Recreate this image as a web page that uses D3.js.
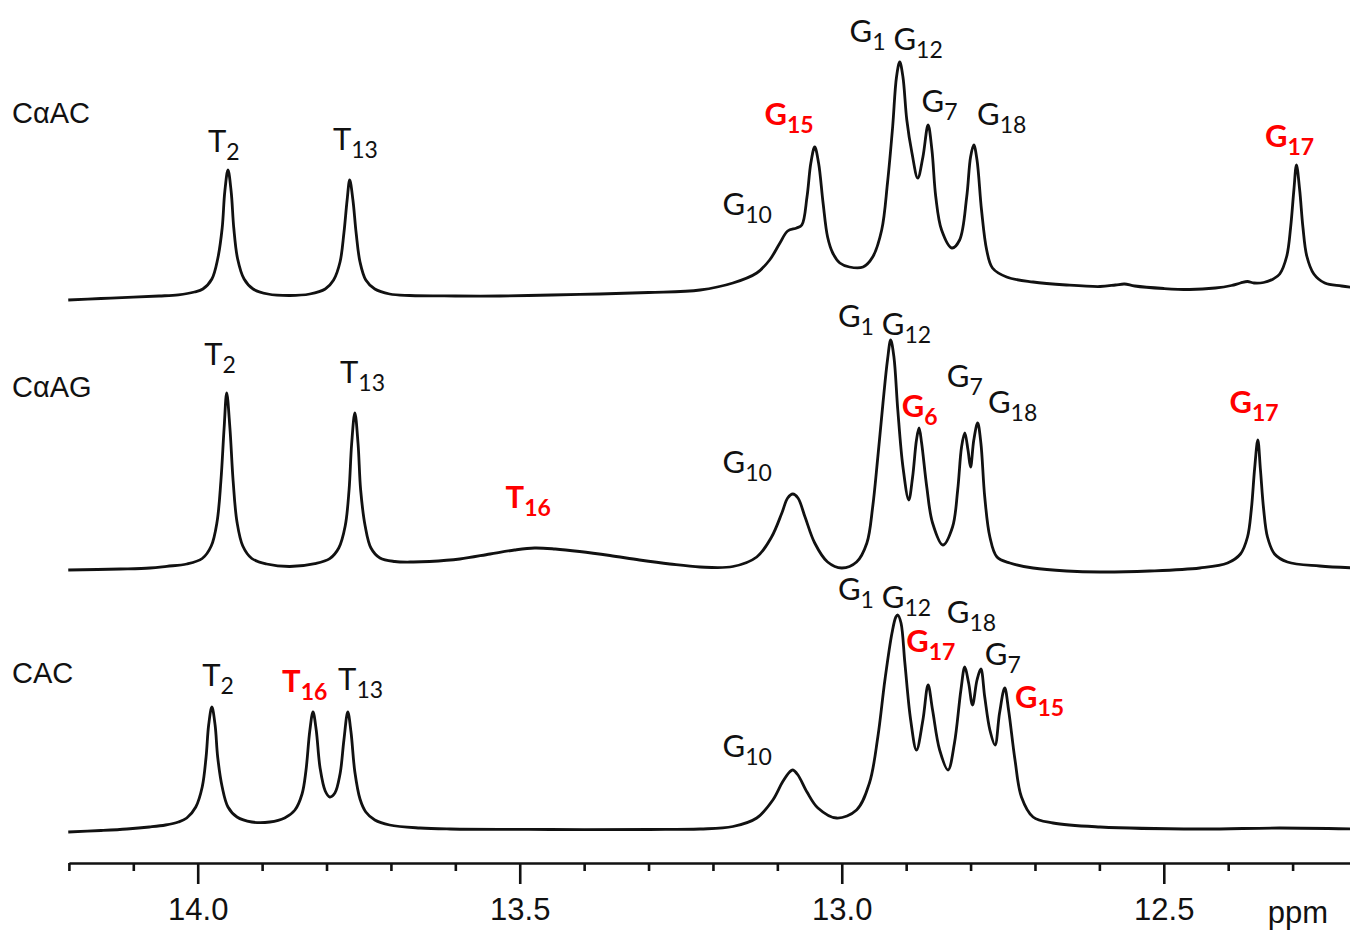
<!DOCTYPE html>
<html>
<head>
<meta charset="utf-8">
<style>
  body { margin: 0; background: #fff; }
  svg { display: block; }
  .axis text { font-family: "Liberation Sans", Arial, sans-serif; font-size: 31px; fill: #111; }
  .axis path, .axis line { stroke: #111; stroke-width: 2.6px; }
</style>
</head>
<body>
<div id="chart"></div>
<script src="https://d3js.org/d3.v7.min.js"></script>
<script>
var width = 1350,
    height = 931;

// sample names, one per trace (top to bottom)
var samples = ["C\u03b1AC", "C\u03b1AG", "CAC"];

// spectra: [ppm, intensity (a.u.)]
var specCaAC = [
  [14.201, 0], [14.150, 1.5], [14.100, 2.8], [14.060, 4], [14.030, 5.2], [14.005, 8], [13.992, 11],
  [13.978, 21], [13.969, 41], [13.962, 72], [13.958, 108], [13.953, 130], [13.948, 108], [13.944, 72],
  [13.938, 41], [13.928, 21], [13.914, 11], [13.891, 6], [13.857, 4.5], [13.826, 6], [13.802, 11],
  [13.789, 20], [13.779, 38], [13.773, 67], [13.768, 100], [13.764, 120], [13.759, 100], [13.754, 67],
  [13.748, 38], [13.739, 20], [13.725, 11], [13.702, 6], [13.671, 4.5], [13.600, 4], [13.531, 4],
  [13.450, 5], [13.376, 6], [13.300, 7.5], [13.220, 10], [13.169, 17], [13.132, 27], [13.112, 40],
  [13.096, 57], [13.084, 69], [13.070, 72], [13.062, 75], [13.054, 103], [13.048, 137], [13.042, 153],
  [13.036, 137], [13.029, 97], [13.022, 63], [13.014, 47], [13.003, 37], [12.988, 33], [12.967, 33],
  [12.952, 43], [12.938, 70], [12.929, 117], [12.921, 173], [12.915, 223], [12.910, 238], [12.905, 223],
  [12.899, 180], [12.891, 147], [12.882, 122], [12.874, 143], [12.866, 175], [12.860, 150], [12.854, 103],
  [12.845, 70], [12.829, 52], [12.817, 60], [12.806, 103], [12.800, 143], [12.795, 155], [12.790, 140],
  [12.783, 90], [12.775, 50], [12.766, 32], [12.744, 23], [12.703, 18], [12.651, 15], [12.599, 13.5],
  [12.575, 15], [12.561, 16], [12.545, 14], [12.500, 11.5], [12.460, 10.5], [12.420, 12], [12.395, 14.5],
  [12.381, 17], [12.370, 18.5], [12.360, 17], [12.345, 17.5], [12.330, 21], [12.320, 26], [12.309, 44],
  [12.303, 73], [12.298, 110], [12.294, 135], [12.289, 110], [12.284, 73], [12.278, 44], [12.267, 26],
  [12.250, 17], [12.224, 14], [12.201, 12]
];

var specCaAG = [
  [14.201, 2], [14.120, 3], [14.074, 4], [14.048, 5.7], [14.017, 8], [13.993, 13.5], [13.979, 26],
  [13.970, 50], [13.964, 91], [13.959, 144], [13.955, 179], [13.950, 144], [13.945, 91], [13.939, 50],
  [13.930, 26], [13.916, 13.5], [13.893, 8], [13.857, 5.5], [13.818, 8.4], [13.795, 13.4], [13.781, 24],
  [13.771, 46], [13.765, 82], [13.761, 128], [13.756, 159], [13.751, 128], [13.747, 82], [13.740, 46],
  [13.731, 24], [13.717, 14], [13.694, 10.5], [13.665, 10], [13.640, 10.5], [13.593, 13], [13.546, 18],
  [13.508, 22], [13.477, 24], [13.445, 23], [13.407, 20.5], [13.360, 16.5], [13.314, 12], [13.267, 8],
  [13.220, 5], [13.169, 5.5], [13.132, 15], [13.109, 35], [13.093, 59], [13.084, 74], [13.076, 78],
  [13.068, 74], [13.057, 55], [13.042, 29], [13.022, 10], [13.000, 4], [12.977, 10], [12.961, 29],
  [12.952, 65], [12.944, 115], [12.936, 169], [12.929, 212], [12.924, 232], [12.919, 215], [12.913, 162],
  [12.905, 105], [12.896, 72], [12.890, 95], [12.884, 132], [12.880, 144], [12.876, 129], [12.868, 85],
  [12.859, 49], [12.843, 27], [12.828, 45], [12.820, 82], [12.814, 125], [12.809, 139], [12.804, 122],
  [12.800, 105], [12.795, 132], [12.789, 149], [12.784, 129], [12.778, 75], [12.770, 35], [12.759, 15],
  [12.739, 9], [12.703, 4], [12.651, 1], [12.599, 0], [12.522, 1], [12.444, 4], [12.401, 9],
  [12.381, 18], [12.370, 35], [12.364, 63], [12.359, 103], [12.354, 132], [12.350, 103], [12.345, 63],
  [12.339, 35], [12.328, 18], [12.308, 10], [12.258, 6], [12.201, 4]
];

var specCAC = [
  [14.201, 0], [14.150, 1.5], [14.110, 3], [14.075, 5], [14.050, 7], [14.030, 10], [14.017, 14],
  [14.003, 25], [13.993, 45], [13.987, 75], [13.983, 107], [13.978, 125], [13.973, 107], [13.969, 75],
  [13.962, 45], [13.953, 25], [13.939, 15], [13.916, 10], [13.888, 10], [13.865, 14], [13.849, 22],
  [13.838, 38], [13.832, 61], [13.826, 101], [13.821, 120], [13.816, 102], [13.810, 64], [13.802, 41],
  [13.795, 35], [13.787, 39], [13.779, 58], [13.773, 92], [13.767, 120], [13.762, 100], [13.756, 60],
  [13.748, 33], [13.739, 20], [13.725, 12], [13.702, 7], [13.655, 4], [13.608, 3], [13.453, 2.5],
  [13.298, 2.5], [13.220, 3], [13.169, 5.5], [13.132, 14], [13.107, 32], [13.092, 50], [13.081, 60],
  [13.076, 62], [13.068, 57], [13.054, 40], [13.037, 24], [13.008, 14], [12.977, 22], [12.957, 49],
  [12.944, 95], [12.933, 152], [12.922, 199], [12.916, 215], [12.913, 217], [12.908, 209], [12.902, 169],
  [12.893, 112], [12.884, 82], [12.874, 112], [12.866, 147], [12.859, 122], [12.848, 82], [12.835, 62],
  [12.825, 89], [12.815, 142], [12.809, 165], [12.803, 149], [12.797, 127], [12.790, 152], [12.784, 163],
  [12.778, 135], [12.770, 102], [12.762, 87], [12.755, 119], [12.747, 144], [12.741, 122], [12.731, 72],
  [12.721, 35], [12.703, 15], [12.672, 9], [12.599, 5], [12.444, 3], [12.320, 4], [12.201, 3]
];

var spectra = [specCaAC, specCaAG, specCAC];

// peak assignments: parts [main, subscript], red = new/shifted peak
var peaksCaAC = [
  { parts: [["T", "2"]], ppm: 13.984, y: 152 },
  { parts: [["T", "13"]], ppm: 13.790, y: 150 },
  { parts: [["G", "10"]], ppm: 13.185, y: 215 },
  { parts: [["G", "15"]], ppm: 13.120, y: 125, red: true },
  { parts: [["G", "1"], [" G", "12"]], ppm: 12.988, y: 42 },
  { parts: [["G", "7"]], ppm: 12.876, y: 112 },
  { parts: [["G", "18"]], ppm: 12.790, y: 125 },
  { parts: [["G", "17"]], ppm: 12.343, y: 147, red: true }
];
var peaksCaAG = [
  { parts: [["T", "2"]], ppm: 13.990, y: 365 },
  { parts: [["T", "13"]], ppm: 13.779, y: 383 },
  { parts: [["T", "16"]], ppm: 13.522, y: 508, red: true },
  { parts: [["G", "10"]], ppm: 13.185, y: 473 },
  { parts: [["G", "1"], [" G", "12"]], ppm: 13.006, y: 327 },
  { parts: [["G", "6"]], ppm: 12.907, y: 417, red: true },
  { parts: [["G", "7"]], ppm: 12.837, y: 387 },
  { parts: [["G", "18"]], ppm: 12.773, y: 413 },
  { parts: [["G", "17"]], ppm: 12.398, y: 413, red: true }
];
var peaksCAC = [
  { parts: [["T", "2"]], ppm: 13.993, y: 686 },
  { parts: [["T", "16"]], ppm: 13.869, y: 692, red: true },
  { parts: [["T", "13"]], ppm: 13.782, y: 690 },
  { parts: [["G", "10"]], ppm: 13.185, y: 757 },
  { parts: [["G", "1"], [" G", "12"]], ppm: 13.006, y: 600 },
  { parts: [["G", "17"]], ppm: 12.900, y: 652, red: true },
  { parts: [["G", "18"]], ppm: 12.837, y: 623 },
  { parts: [["G", "7"]], ppm: 12.778, y: 665 },
  { parts: [["G", "15"]], ppm: 12.731, y: 708, red: true }
];
var peaks = [peaksCaAC, peaksCaAG, peaksCAC];

// axis ticks (ppm)
var majorTicks = [14.0, 13.5, 13.0, 12.5];
var minorTicks = [14.2, 14.1, 13.9, 13.8, 13.7, 13.6, 13.4, 13.3, 13.2, 13.1, 12.9, 12.8, 12.7, 12.6, 12.4, 12.3];

// layout
var baselines = [300, 572, 832];
var nameY = [123, 397, 683];
var axisY = 863;

var svg = d3.select("#chart")
  .append("svg")
    .attr("width", width)
    .attr("height", height);

svg.append("rect").attr("width", width).attr("height", height).attr("fill", "#fff");

// ppm runs right to left
var x = d3.scaleLinear()
  .domain([14.2, 12.2])
  .range([68.9, 1357]);

var y = d3.scaleLinear()
  .domain([0, 100])
  .range([0, -100]);

var line = d3.line()
  .x(function(d) { return x(d[0]); })
  .y(function(d) { return y(d[1]); })
  .curve(d3.curveCatmullRom.alpha(0.5));

spectra.forEach(function(spec, k) {
  var g = svg.append("g").attr("transform", "translate(0," + baselines[k] + ")");
  g.append("path")
    .datum(spec)
    .attr("d", line)
    .attr("fill", "none")
    .attr("stroke", "#111")
    .attr("stroke-width", 2.8)
    .attr("stroke-linejoin", "round");
});

// sample names
svg.selectAll(".name")
  .data(samples)
  .enter()
  .append("text")
    .attr("x", 12)
    .attr("y", function(d, i) { return nameY[i]; })
    .style("font-family", "'Liberation Sans', Arial, sans-serif")
    .style("font-size", "29px")
    .attr("fill", "#111")
    .text(function(d) { return d; });

// peak labels
peaks.forEach(function(list) {
  list.forEach(function(p) {
    var t = svg.append("text")
      .attr("x", x(p.ppm))
      .attr("y", p.y)
      .style("font-family", "Lato, 'Open Sans', sans-serif")
      .style("font-size", "31px")
      .style("font-weight", p.red ? "bold" : "normal")
      .attr("fill", p.red ? "#ff0000" : "#111");
    p.parts.forEach(function(part) {
      t.append("tspan").text(part[0]);
      t.append("tspan")
        .attr("dy", 8)
        .style("font-size", "23px")
        .text(part[1]);
      t.append("tspan").attr("dy", -8).text("");
    });
  });
});

// axis
var axisMinor = d3.axisBottom(x)
  .tickValues(minorTicks)
  .tickSize(8)
  .tickSizeOuter(0)
  .tickFormat("");

var axisMajor = d3.axisBottom(x)
  .tickValues(majorTicks)
  .tickSize(21)
  .tickSizeOuter(0)
  .tickPadding(14)
  .tickFormat(d3.format(".1f"));

svg.append("g")
  .attr("class", "axis")
  .attr("transform", "translate(0," + axisY + ")")
  .call(axisMinor);

var gMajor = svg.append("g")
  .attr("class", "axis")
  .attr("transform", "translate(0," + axisY + ")")
  .call(axisMajor);
gMajor.select(".domain").remove();

svg.append("text")
  .attr("x", 1298)
  .attr("y", 923)
  .attr("text-anchor", "middle")
  .style("font-family", "'Liberation Sans', Arial, sans-serif")
  .style("font-size", "31px")
  .attr("fill", "#111")
  .text("ppm");
</script>
</body>
</html>
